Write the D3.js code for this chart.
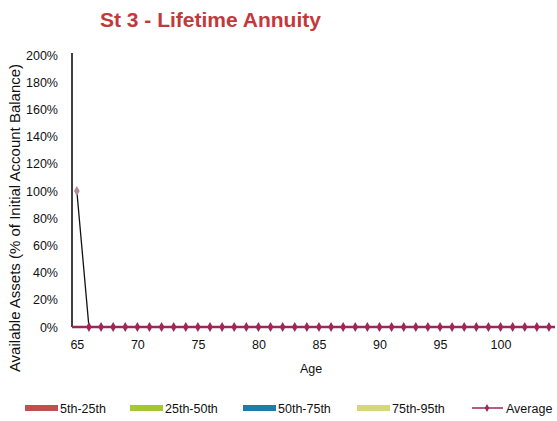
<!DOCTYPE html>
<html><head><meta charset="utf-8">
<script src="https://cdn.jsdelivr.net/npm/d3@7"></script>
<style>body{margin:0;background:#fff}svg{display:block}text{font-family:"Liberation Sans",Arial,sans-serif}</style>
</head><body><svg id="c" width="557" height="421"></svg>
<script>
const ages = d3.range(65, 105);
const p5  = ages.map(a => a === 65 ? 100 : 0);
const p25 = ages.map(a => a === 65 ? 100 : 0);
const p50 = ages.map(a => a === 65 ? 100 : 0);
const p75 = ages.map(a => a === 65 ? 100 : 0);
const p95 = ages.map(a => a === 65 ? 100 : 0);
const average = ages.map(a => a === 65 ? 100 : 0);
const yTicks = [0,20,40,60,80,100,120,140,160,180,200];
const xTicks = [65,70,75,80,85,90,95,100];
const bands = [
  {name:"5th-25th", lo:p5, hi:p25, color:"#c0504d"},
  {name:"25th-50th", lo:p25, hi:p50, color:"#a5c832"},
  {name:"50th-75th", lo:p50, hi:p75, color:"#1d7ca8"},
  {name:"75th-95th", lo:p75, hi:p95, color:"#d6d67a"}
];

const svg = d3.select("#c");
const x = d3.scaleLinear().domain([64.6, 104.5]).range([72, 555]);
const y = d3.scaleLinear().domain([0, 200]).range([327, 55]);

svg.append("text").attr("x",100).attr("y",27).attr("font-size",21).attr("font-weight","bold")
  .attr("fill","#c3393b").text("St 3 - Lifetime Annuity");

// bands
svg.append("clipPath").attr("id","cp").append("rect").attr("x",72).attr("y",50).attr("width",490).attr("height",y(0)-2-50);
bands.forEach(b => {
  svg.append("path").datum(ages.map((a,i)=>[a,b.lo[i],b.hi[i]]))
    .attr("fill", b.color)
    .attr("d", d3.area().x(d=>x(d[0])).y0(d=>y(d[1])).y1(d=>y(d[2])));
});
svg.append("path").datum(ages.map((a,i)=>[a,p50[i]]))
  .attr("clip-path","url(#cp)").attr("fill","none").attr("stroke","#111").attr("stroke-width",1.3)
  .attr("d", d3.line().x(d=>x(d[0])).y(d=>y(d[1])));

// y axis
const ya = svg.append("g").attr("transform","translate(72,0)")
  .call(d3.axisLeft(y).tickValues(yTicks).tickFormat(d=>d+"%").tickSize(0).tickPadding(14));
ya.select(".domain").attr("stroke","#000").attr("stroke-width",1.5).attr("d","M0,53V327");
ya.selectAll("text").attr("font-size",12.5).attr("fill","#111").attr("font-family","Liberation Sans, Arial, sans-serif");

// x axis
const xa = svg.append("g").attr("transform","translate(0,327)")
  .call(d3.axisBottom(x).tickValues(xTicks).tickSize(0).tickPadding(13));
xa.select(".domain").attr("stroke","#333").attr("d","M72,0H555");
xa.selectAll("text").attr("font-size",12.5).attr("fill","#111").attr("font-family","Liberation Sans, Arial, sans-serif");

// average: level part of the line (from the axis onward), then markers
const avgPts = ages.map((a,i)=>[x(a),y(average[i])]);
const levelPts = [[72, avgPts[1][1]]].concat(avgPts.slice(1)).concat([[555, avgPts[avgPts.length-1][1]]]);
svg.append("path").datum(levelPts)
  .attr("fill","none").attr("stroke","#9b2857").attr("stroke-width",2.5)
  .attr("d", d3.line());
svg.append("g").selectAll("path").data(avgPts).join("path")
  .attr("transform",d=>`translate(${d[0]},${d[1]})`)
  .attr("d", d3.symbol(d3.symbolDiamond, 28))
  .attr("fill",(d,i)=> i===0 ? "#b08a9a" : "#9b2857");

svg.append("text").attr("x",311).attr("y",373).attr("text-anchor","middle").attr("font-size",12.5).attr("fill","#111").text("Age");
svg.append("text").attr("transform","translate(20,218) rotate(-90)").attr("text-anchor","middle")
  .attr("font-size",15).attr("fill","#111").text("Available Assets (% of Initial Account Balance)");

// legend
const lg = svg.append("g");
const lx = [25,130,243,357];
bands.forEach((b,i)=>{
  lg.append("rect").attr("x",lx[i]).attr("y",405).attr("width",33).attr("height",6).attr("fill",b.color);
  lg.append("text").attr("x",lx[i]+35).attr("y",412.5).attr("font-size",12.5).attr("fill","#111").text(b.name);
});
lg.append("line").attr("x1",472).attr("x2",503).attr("y1",408).attr("y2",408).attr("stroke","#9b2857").attr("stroke-width",1.5);
lg.append("path").attr("transform","translate(487,408)").attr("d",d3.symbol(d3.symbolDiamond,18)).attr("fill","#9b2857");
lg.append("text").attr("x",506).attr("y",412.5).attr("font-size",12.5).attr("fill","#111").text("Average");
</script></body></html>
